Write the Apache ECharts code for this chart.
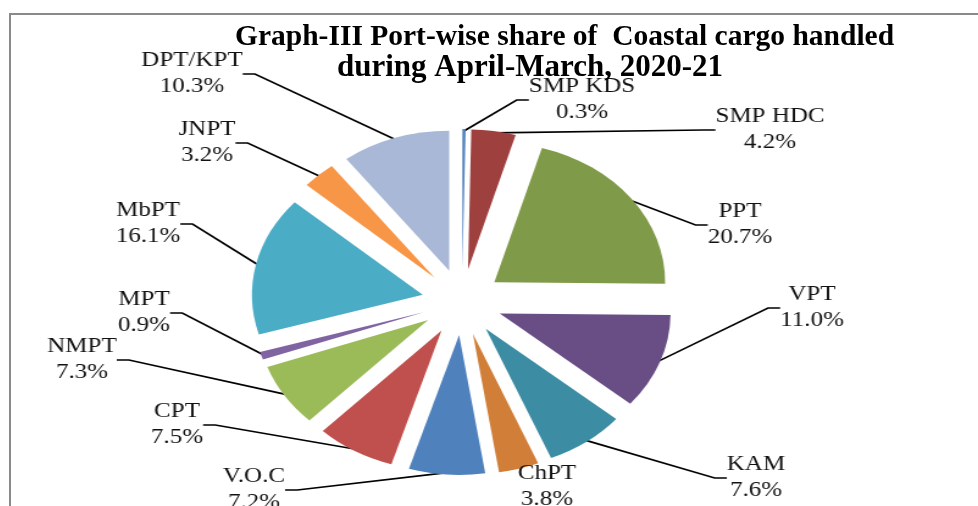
<!DOCTYPE html>
<html>
<head>
<meta charset="utf-8">
<script src="https://cdn.jsdelivr.net/npm/echarts@6/dist/echarts.min.js"></script>
<style>
html,body{margin:0;padding:0;background:#fff;overflow:hidden;width:978px;height:506px;}
#frame{position:absolute;left:9px;top:13px;width:980px;height:520px;border-left:2.5px solid #8a8a8a;border-top:2.5px solid #8a8a8a;z-index:3;}
#pie{position:absolute;left:0;top:0;width:978px;height:506px;transform-origin:462px 0;transform:scaleX(1.22);z-index:1;}
#head{position:absolute;left:0;top:0;width:978px;height:100px;z-index:2;}
</style>
</head>
<body>
<div id="pie"></div>
<div id="head"></div>
<div id="frame"></div>
<script>
const categories = ['SMP KDS','SMP HDC','PPT','VPT','KAM','ChPT','V.O.C','CPT','NMPT','MPT','MbPT','JNPT','DPT/KPT'];
const shares = [0.3, 4.2, 20.7, 11.0, 7.6, 3.8, 7.2, 7.5, 7.3, 0.9, 16.1, 3.2, 10.3];
const colors = ['#4F81BD','#9E413E','#7F9A48','#684E85','#3C8DA3','#D07E38','#4F81BD','#C0504D','#9BBB59','#8064A2','#4BACC6','#F79646','#A9B8D6'];
const titleLines = ['Graph-III Port-wise share of  Coastal cargo handled','during April-March, 2020-21'];

// label placement on screen (text box centres), style only
const labelPos = [[582,100],[770,130],[740,225],[812,308],[756,478],[547,487],[254,490],[177,425],[82,360],[144,313],[148,224],[207,143],[192,74]];
// labels drawn without a leader line (style only)
const noLeader = ['ChPT'];

const SX = 1.22, CX = 462, CY = 302, R = 140, OFF = 33;
const toInner = x => CX + (x - CX) / SX;

const head = echarts.init(document.getElementById('head'));
head.setOption({
  animation:false,
  title:[
    {text:titleLines[0],left:230,top:17,textStyle:{fontFamily:'Liberation Serif',fontWeight:'bold',fontSize:29.5,color:'#000'}},
    {text:titleLines[1],left:332,top:47,textStyle:{fontFamily:'Liberation Serif',fontWeight:'bold',fontSize:31,color:'#000'}}
  ]
});

const pie = echarts.init(document.getElementById('pie'));
const sliceData = categories.map((c,i)=>({name:c,value:shares[i],selected:true,itemStyle:{color:colors[i]}}));
const labelData = categories.map((c,i)=>({name:c,value:shares[i],labelLine:{show:noLeader.indexOf(c)<0}}));
pie.setOption({
  animation:false,
  series:[{
    type:'pie',
    center:[CX,CY],
    radius:[0,R],
    startAngle:90,
    clockwise:true,
    selectedMode:'multiple',
    selectedOffset:OFF,
    emphasis:{disabled:true},
    silent:true,
    data:sliceData,
    itemStyle:{borderWidth:0},
    label:{show:false},
    labelLine:{show:false}
  },{
    type:'pie',
    center:[CX,CY],
    radius:[0,R+OFF-2],
    startAngle:90,
    clockwise:true,
    selectedMode:false,
    avoidLabelOverlap:false,
    emphasis:{disabled:true},
    silent:true,
    data:labelData,
    itemStyle:{color:'rgba(0,0,0,0)',borderWidth:0},
    label:{
      show:true,
      formatter:p=>p.name+'\n'+p.value.toFixed(1)+'%',
      fontFamily:'Liberation Serif',
      fontSize:20.5,
      lineHeight:26,
      color:'#111',
      align:'center'
    },
    labelLine:{show:true,length:20,length2:10,lineStyle:{color:'#000',width:1.7}},
    labelLayout:function(p){
      const pos = labelPos[p.dataIndex];
      return {x:toInner(pos[0]),y:pos[1],align:'center',verticalAlign:'middle'};
    }
  }]
});
</script>
</body>
</html>
